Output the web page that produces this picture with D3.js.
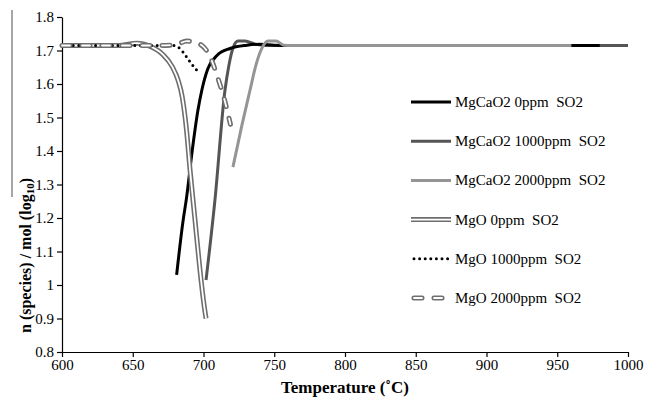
<!DOCTYPE html>
<html>
<head>
<meta charset="utf-8">
<script src="https://cdn.jsdelivr.net/npm/d3@7"></script>
<style>
  body { margin: 0; background: #fff; }
  svg { display: block; }
  .axis path, .axis line { stroke: #000; stroke-width: 1.2; }
  .title { font-weight: bold; font-size: 17px; font-family: "Liberation Serif", serif; }
</style>
</head>
<body>
<svg id="chart" width="646" height="399"></svg>
<script>
// series names (legend order)
var seriesNames = [
  "MgCaO2 0ppm  SO2",
  "MgCaO2 1000ppm  SO2",
  "MgCaO2 2000ppm  SO2",
  "MgO 0ppm  SO2",
  "MgO 1000ppm  SO2",
  "MgO 2000ppm  SO2"
];

// [temperature, log10 n]
var mgcao2_0 = [[681, 1.03], [685.5, 1.19], [688, 1.26], [692, 1.40], [696, 1.52], [699, 1.585],
  [703, 1.645], [709.5, 1.685], [718.7, 1.706], [730.7, 1.716], [740, 1.719], [750, 1.716],
  [760, 1.715], [980, 1.715]];
var mgcao2_1000 = [[701.8, 1.015], [708.1, 1.254], [715.2, 1.582], [718, 1.657], [720.8, 1.707],
  [724.4, 1.728], [729.3, 1.728], [736.4, 1.719], [743.5, 1.715], [1000, 1.715]];
var mgcao2_2000 = [[720.8, 1.352], [727.2, 1.478], [732.9, 1.582], [737.1, 1.657], [741.3, 1.707],
  [745.6, 1.728], [751.2, 1.728], [756.9, 1.716], [762, 1.715], [960, 1.715]];
var mgo_0 = [[600, 1.715], [641, 1.715], [653, 1.722], [662, 1.713], [671, 1.689], [678, 1.651],
  [682, 1.612], [685, 1.561], [688, 1.463], [690.5, 1.343], [694, 1.194], [697.5, 1.045],
  [700.4, 0.94], [701.8, 0.9]];
var mgo_1000 = [[600, 1.715], [678, 1.715], [683, 1.707], [686.5, 1.69], [689, 1.675],
  [691.5, 1.66], [694, 1.647], [697, 1.633]];
var mgo_2000 = [[600, 1.715], [670, 1.715], [681, 1.718], [688, 1.728], [694, 1.725],
  [703, 1.695], [710, 1.62], [715, 1.55], [719, 1.48]];

var xTicks = [600, 650, 700, 750, 800, 850, 900, 950, 1000];
var yTicks = [0.8, 0.9, 1.0, 1.1, 1.2, 1.3, 1.4, 1.5, 1.6, 1.7, 1.8];
var yTickLabels = ["0.8", "0.9", "1", "1.1", "1.2", "1.3", "1.4", "1.5", "1.6", "1.7", "1.8"];

var width = 646, height = 399;
var margin = {top: 17, right: 18, bottom: 47, left: 62};
var serif = "'Liberation Serif', 'Times New Roman', serif";

var svg = d3.select("#chart");

var x = d3.scaleLinear().domain([600, 1000]).range([margin.left, width - margin.right]);
var y = d3.scaleLinear().domain([0.8, 1.8]).range([height - margin.bottom, margin.top]);

var line = d3.line()
    .x(function(d) { return x(d[0]); })
    .y(function(d) { return y(d[1]); })
    .curve(d3.curveMonotoneX);

// stray rule at the far left of the scan
svg.append("line")
    .attr("x1", 12).attr("x2", 12)
    .attr("y1", 10).attr("y2", 197)
    .attr("stroke", "#8a8a8a").attr("stroke-width", 1.5);

// axes
svg.append("g")
    .attr("class", "axis")
    .attr("transform", `translate(0, ${y(0.8)})`)
    .call(d3.axisBottom(x).tickValues(xTicks).tickSize(5).tickSizeOuter(0).tickPadding(2)
        .tickFormat(d3.format("d")))
    .attr("font-family", serif)
    .attr("font-size", 15);

svg.append("g")
    .attr("class", "axis")
    .attr("transform", `translate(${x(600)}, 0)`)
    .call(d3.axisLeft(y).tickValues(yTicks).tickSize(5).tickSizeOuter(0).tickPadding(3)
        .tickFormat(function(d, i) { return yTickLabels[i]; }))
    .attr("font-family", serif)
    .attr("font-size", 15);

// styles for each series, index matches seriesNames
var styles = [
  {layers: [{stroke: "#000", w: 3}]},
  {layers: [{stroke: "#555", w: 3}]},
  {layers: [{stroke: "#959595", w: 3}]},
  {layers: [{stroke: "#6e6e6e", w: 5}, {stroke: "#fff", w: 1.8}]},
  {layers: [{stroke: "#000", w: 3, dash: "0 5.6", cap: "round"}]},
  {layers: [{stroke: "#6e6e6e", w: 5, dash: "8 12", cap: "round"},
            {stroke: "#fff", w: 1.8, dash: "8 12", cap: "round"}]}
];
var seriesData = [mgcao2_0, mgcao2_1000, mgcao2_2000, mgo_0, mgo_1000, mgo_2000];
var drawOrder = [1, 0, 2, 3, 4, 5];

var plot = svg.append("g");
drawOrder.forEach(function(k) {
  styles[k].layers.forEach(function(l) {
    plot.append("path")
        .datum(seriesData[k])
        .attr("d", line)
        .attr("fill", "none")
        .attr("stroke", l.stroke)
        .attr("stroke-width", l.w)
        .attr("stroke-dasharray", l.dash || null)
        .attr("stroke-linecap", l.cap || "butt")
        .attr("stroke-linejoin", "round");
  });
});

// legend
var legend = svg.append("g").attr("transform", "translate(411, 102)");
seriesNames.forEach(function(name, i) {
  var g = legend.append("g").attr("transform", `translate(0, ${i * 39.2})`);
  styles[i].layers.forEach(function(l) {
    var x1 = 0, x2 = 40;
    if (l.cap === "round" && l.dash) { x1 = 3; x2 = 40; }
    g.append("line")
        .attr("x1", x1).attr("x2", x2).attr("y1", 0).attr("y2", 0)
        .attr("stroke", l.stroke)
        .attr("stroke-width", l.w)
        .attr("stroke-dasharray", l.dash || null)
        .attr("stroke-linecap", l.cap || "butt");
  });
  g.append("text")
      .attr("x", 44)
      .attr("y", 5)
      .attr("font-family", serif)
      .attr("font-size", 15)
      .style("white-space", "pre")
      .text(name);
});

// axis titles
svg.append("text")
    .attr("class", "title")
    .attr("x", 345)
    .attr("y", 393)
    .attr("text-anchor", "middle")
    .text("Temperature (˚C)");

var yt = svg.append("text")
    .attr("class", "title")
    .attr("font-size", "16px")
    .style("font-size", "16px")
    .attr("transform", "translate(31, 333) rotate(-90)")
    .attr("text-anchor", "start");
yt.append("tspan").text("n (species) / mol (log");
yt.append("tspan").style("font-size", "11px").attr("dy", 3).text("10");
yt.append("tspan").attr("dy", -3).text(")");
</script>
</body>
</html>
